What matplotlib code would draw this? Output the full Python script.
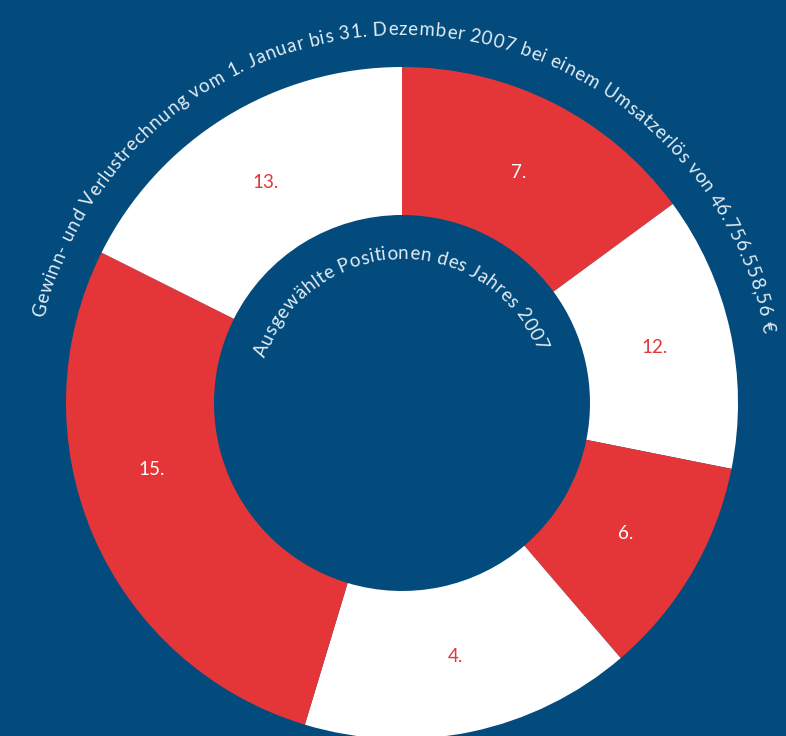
import matplotlib
matplotlib.use("Agg")
import matplotlib.pyplot as plt
import numpy as np
from matplotlib.font_manager import FontProperties

# segments clockwise from 12 o'clock, values are the arc shares
positions = ["7.", "12.", "6.", "4.", "15.", "13."]
shares = [53.7, 47.6, 38.1, 57.4, 99.8, 63.4]

outer_title = ("Gewinn- und Verlustrechnung vom 1. Januar bis 31. Dezember 2007 "
               "bei einem Umsatzerlös von 46.756.558,56 €")
inner_title = "Ausgewählte Positionen des Jahres 2007"

BG = "#034B7C"
RED = "#E43638"
WHITE = "#FFFFFF"
TEXT = "#E2ECF4"

W, H = 786, 736
cx, cy = 402, H - 403
r_out, r_in = 336, 188

# the big segment's label sits a bit past the middle of its arc (degrees, clockwise)
label_shift = {"15.": 8.5}

fig = plt.figure(figsize=(W / 100, H / 100), dpi=100, facecolor=BG)
ax = fig.add_axes([0, 0, 1, 1])
ax.set_facecolor(BG)

seg_colors = [RED if i % 2 == 0 else WHITE for i in range(len(shares))]
wedges, _ = ax.pie(
    shares,
    colors=seg_colors,
    startangle=90,
    counterclock=False,
    radius=r_out,
    center=(cx, cy),
    wedgeprops=dict(width=r_out - r_in, linewidth=0),
)

label_font = FontProperties(family="Lato", size=13.5)
for i, (w, lab) in enumerate(zip(wedges, positions)):
    mid = np.deg2rad((w.theta1 + w.theta2) / 2 - label_shift.get(lab, 0))
    rr = 0.77 * r_out
    ax.text(cx + rr * np.cos(mid), cy + rr * np.sin(mid), lab,
            ha="center", va="center", fontproperties=label_font,
            color=WHITE if seg_colors[i] == RED else RED)

ax.set_xlim(0, W)
ax.set_ylim(0, H)
ax.set_aspect("equal")
ax.axis("off")

renderer = fig.canvas.get_renderer()


def advances(text, prop):
    base = renderer.get_text_width_height_descent("xx", prop, ismath=False)[0]
    out = []
    for ch in text:
        w = renderer.get_text_width_height_descent("x" + ch + "x", prop, ismath=False)[0]
        out.append(w - base)
    return np.array(out)


def arc_text(text, radius, start_deg, end_deg, prop, color):
    adv = advances(text, prop)
    span = np.deg2rad(end_deg - start_deg) * radius
    adv = adv * span / adv.sum()
    centers = np.cumsum(adv) - adv / 2
    for ch, s in zip(text, centers):
        if ch == " ":
            continue
        th = np.deg2rad(start_deg) + s / radius
        ax.text(cx + radius * np.sin(th), cy + radius * np.cos(th), ch,
                rotation=-np.rad2deg(th), rotation_mode="anchor",
                ha="center", va="baseline", fontproperties=prop, color=color)


title_font = FontProperties(family="Lato", size=13.5)
arc_text(outer_title, 368, -76.8, 79.2, title_font, TEXT)
arc_text(inner_title, 144, -72.0, 69.6, title_font, TEXT)

fig.savefig("out.png", dpi=100, facecolor=BG)
